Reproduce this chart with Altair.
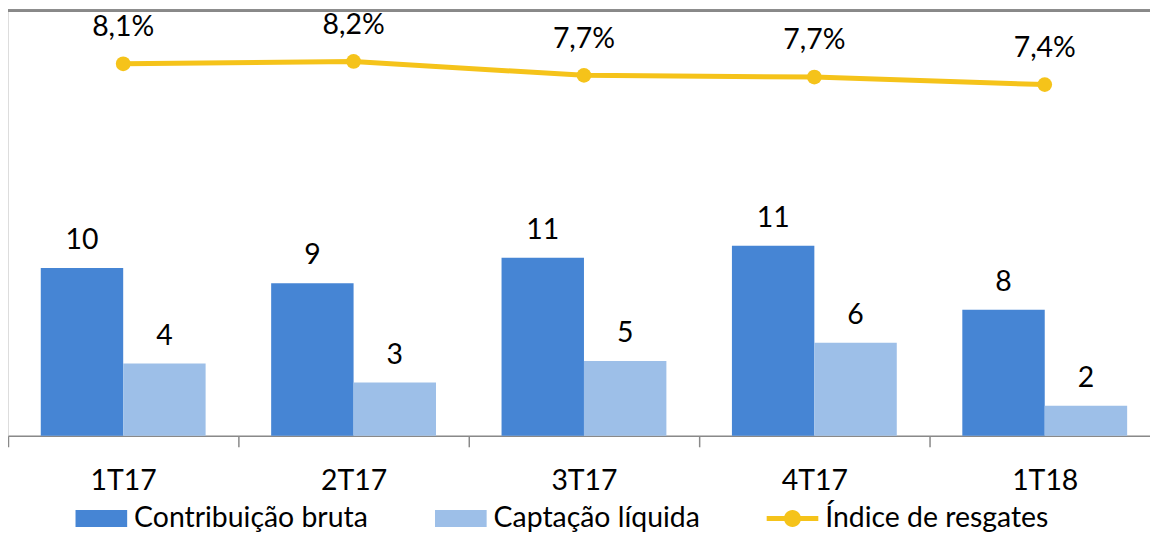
import altair as alt
import pandas as pd

quarters = ["1T17", "2T17", "3T17", "4T17", "1T18"]
contribuicao_bruta = [10.12, 9.20, 10.74, 11.46, 7.60]
captacao_liquida = [4.37, 3.22, 4.51, 5.61, 1.81]
indice_resgates = [8.12, 8.20, 7.72, 7.66, 7.40]
series_names = ["Contribuição bruta", "Captação líquida", "Índice de resgates"]
series_colors = ["#4685D4", "#9DBFE8", "#F5C31A"]

FONT = "Lato"
FS = 28.6
GRAY = "#898989"

bars_df = pd.DataFrame({
    "trimestre": quarters * 2,
    "serie": [series_names[0]] * len(quarters) + [series_names[1]] * len(quarters),
    "valor": contribuicao_bruta + captacao_liquida,
})
line_df = pd.DataFrame({
    "trimestre": quarters,
    "serie": [series_names[2]] * len(quarters),
    "valor": indice_resgates,
})

rect_path = "M-1,-0.327H1V0.327H-1Z"
line_path = ("M-1,-0.1H1V0.1H-1Z "
             "M-0.33,0A0.33,0.33 0 1,1 0.33,0A0.33,0.33 0 1,1 -0.33,0Z")

legend = alt.Legend(
    orient="none", legendX=68, legendY=486, direction="horizontal", title=None,
    padding=0,
    symbolType={"expr": f"datum.value === '{series_names[2]}' ? '{line_path}' : '{rect_path}'"},
    symbolSize=2704, symbolStrokeWidth=0, symbolOpacity=1,
    labelFont=FONT, labelFontSize=FS, labelColor="#000000", labelOffset=7,
    labelLimit=0, columnPadding=67,
)

color = alt.Color("serie:N", scale=alt.Scale(domain=series_names, range=series_colors), legend=legend)

x_enc = alt.X(
    "trimestre:N", sort=quarters,
    scale=alt.Scale(range=[0, 1160], paddingInner=0, paddingOuter=0),
    axis=alt.Axis(title=None, labelAngle=0, tickBand="extent", tickSize=11,
                  tickColor=GRAY, tickWidth=1.5, domainColor=GRAY, domainWidth=1.5,
                  labelFont=FONT, labelFontSize=FS, labelColor="#000000",
                  labelPadding=43, labelBaseline="alphabetic", grid=False),
)
x_off = alt.XOffset("serie:N", sort=series_names[:2],
                    scale=alt.Scale(paddingInner=0, paddingOuter=0.3976))
y_bar = alt.Y("valor:Q", scale=alt.Scale(domain=[0, 25.69], nice=False, zero=True), axis=None)
y_line = alt.Y("valor:Q", scale=alt.Scale(domain=[-4.755, 9.987], nice=False, zero=False), axis=None)

bars = alt.Chart(bars_df).mark_bar().encode(x=x_enc, xOffset=x_off, y=y_bar, color=color)
bar_text = alt.Chart(bars_df).mark_text(
    font=FONT, fontSize=FS, color="#000000", baseline="alphabetic", dy=-19
).encode(x=x_enc, xOffset=x_off, y=y_bar, text=alt.Text("valor:Q", format=".0f"))

line = alt.Chart(line_df).mark_line(strokeWidth=5).encode(x=x_enc, y=y_line, color=color)
points = alt.Chart(line_df).mark_point(filled=True, size=220, opacity=1).encode(x=x_enc, y=y_line, color=color)
line_text = alt.Chart(line_df).transform_calculate(
    rotulo="replace(format(datum.valor, '.1f'), '.', ',') + '%'"
).mark_text(
    font=FONT, fontSize=FS, color="#000000", baseline="alphabetic", dy=-28
).encode(x=x_enc, y=y_line, text="rotulo:N")

top_rule = alt.Chart(bars_df).mark_rule(color=GRAY, strokeWidth=2).encode(
    x=alt.value(0), x2=alt.value(1150), y=alt.value(1)
)

chart = alt.layer(
    top_rule,
    alt.layer(bars, bar_text),
    alt.layer(line, points, line_text),
).resolve_scale(y="independent").properties(
    width=1150, height=429,
    autosize=alt.AutoSizeParams(type="none"),
    padding={"left": 0, "top": 0, "right": 0, "bottom": 99},
).configure_view(stroke=None).configure(background="white")

chart.save("out.html", embed_options={"renderer": "svg", "actions": False})
